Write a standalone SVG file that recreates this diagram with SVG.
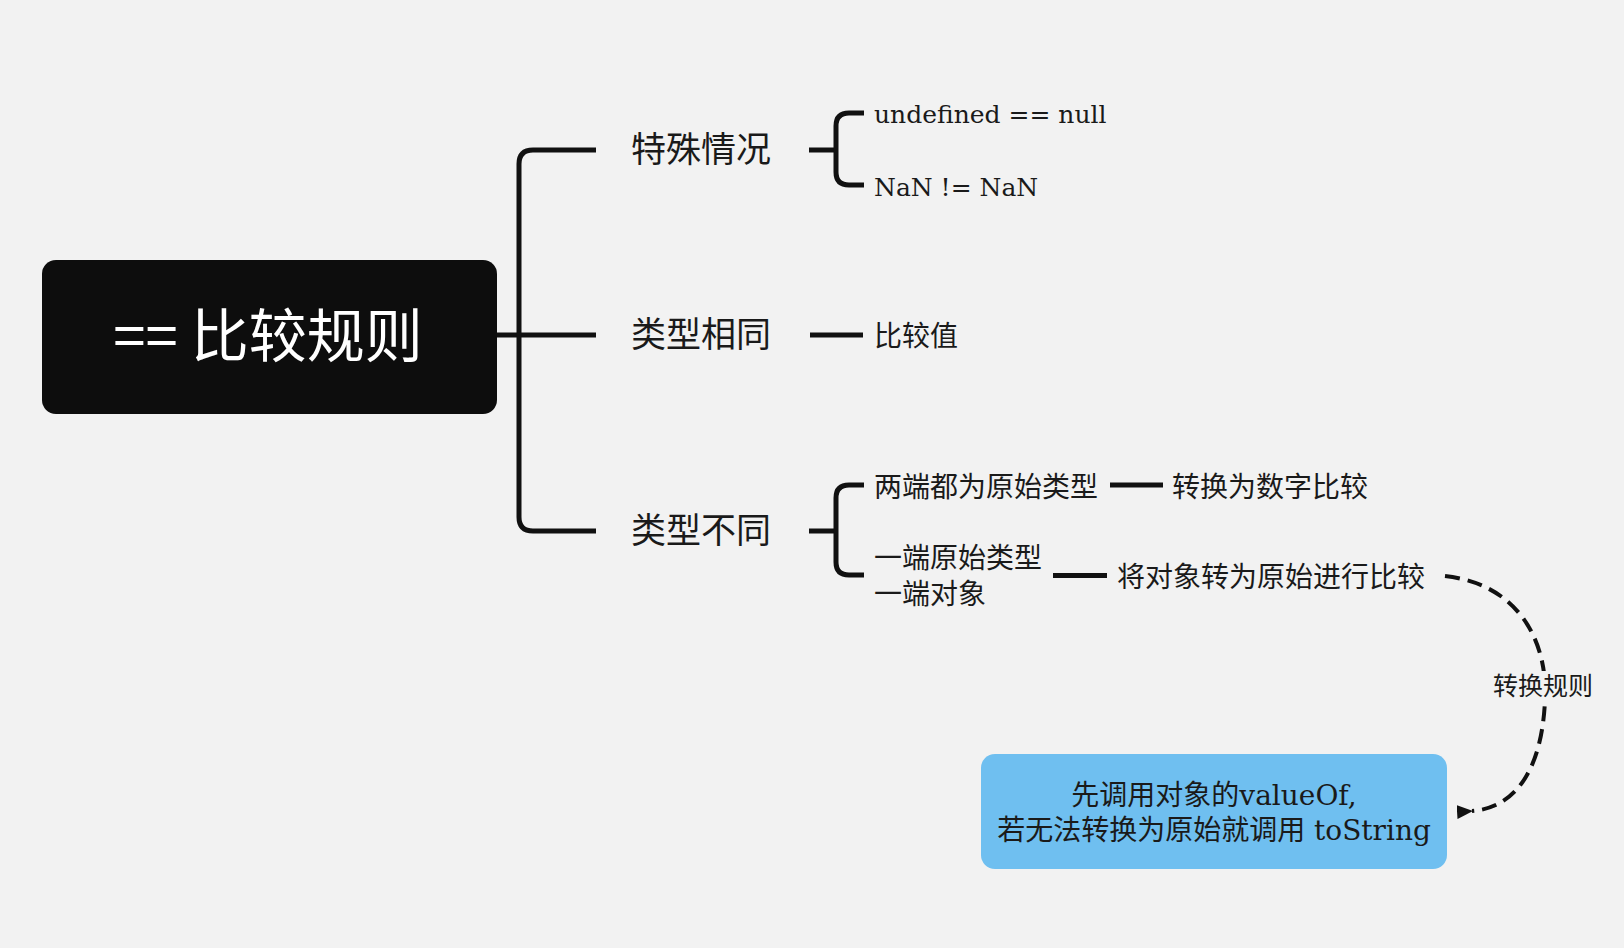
<svg xmlns="http://www.w3.org/2000/svg" width="1624" height="948" viewBox="0 0 1624 948">
<defs>
<style>
.ln{fill:none;stroke:#111;stroke-width:5;stroke-linecap:butt;stroke-linejoin:round}
.dash{fill:none;stroke:#111;stroke-width:4;stroke-dasharray:15 8}
.cjk{font-family:"Noto Sans CJK SC","Noto Sans",sans-serif;fill:#1a1a1a}
.mix{font-family:"DejaVu Serif","Noto Sans CJK SC",serif;fill:#1a1a1a}
.main{font-size:35px}
.sub{font-size:28px}
</style>
<marker id="arr" viewBox="0 0 16 14" refX="1" refY="7" markerWidth="16" markerHeight="14" markerUnits="userSpaceOnUse" orient="auto">
<path d="M0,7 L16,0 L16,14 Z" fill="#111"/>
</marker>
</defs>
<rect width="1624" height="948" fill="#f2f2f2"/>
<g id="connectors">
<path class="ln" d="M497,335 H596"/>
<path class="ln" d="M596,150 H533 Q519,150 519,164 V517 Q519,531 533,531 H596"/>
<path class="ln" d="M809,150 H836"/>
<path class="ln" d="M864,113 H849 Q836,113 836,126 V172 Q836,185 849,185 H864"/>
<path class="ln" d="M810,335 H863"/>
<path class="ln" d="M809,531 H836"/>
<path class="ln" d="M864,485 H849 Q836,485 836,498 V562 Q836,575 849,575 H864"/>
<path class="ln" d="M1110,485 H1163"/>
<path class="ln" d="M1053,575.5 H1107"/>
<path class="dash" d="M1445,576 C1525,585 1548,650 1545,700 C1542,770 1515,808 1472,811" marker-end="url(#arr)"/>
<rect x="1488" y="671" width="110" height="32" fill="#f2f2f2"/>
<text class="cjk" x="1543" y="695" font-size="25" text-anchor="middle">转换规则</text>
</g>
<g id="root">
<rect x="42" y="260" width="455" height="154" rx="14" fill="#0d0d0d"/>
<text x="268" y="357" font-family="Noto Sans CJK SC, sans-serif" font-size="58" fill="#ffffff" text-anchor="middle">== 比较规则</text>
</g>
<g id="n-special"><text class="cjk main" x="631" y="162">特殊情况</text></g>
<g id="n-same"><text class="cjk main" x="631" y="347">类型相同</text></g>
<g id="n-diff"><text class="cjk main" x="631" y="543">类型不同</text></g>
<g id="n-undef"><text class="mix" font-size="25" x="874" y="123">undefined == null</text></g>
<g id="n-nan"><text class="mix" font-size="25" x="874" y="196">NaN != NaN</text></g>
<g id="n-cmpval"><text class="cjk sub" x="874" y="346">比较值</text></g>
<g id="n-bothprim"><text class="cjk sub" x="874" y="497">两端都为原始类型</text></g>
<g id="n-tonum"><text class="cjk sub" x="1172" y="497">转换为数字比较</text></g>
<g id="n-oneobj"><text class="cjk sub" x="874" y="568">一端原始类型</text><text class="cjk sub" x="874" y="604">一端对象</text></g>
<g id="n-toprim"><text class="cjk sub" x="1117" y="587" textLength="308">将对象转为原始进行比较</text></g>
<g id="n-rule">
<rect x="981" y="754" width="466" height="115" rx="14" fill="#6fbff0"/>
<text class="mix" font-size="28" x="1214" y="805" text-anchor="middle">先调用对象的valueOf,</text>
<text class="mix" font-size="28" x="1214" y="840" text-anchor="middle">若无法转换为原始就调用 toString</text>
</g>
</svg>
